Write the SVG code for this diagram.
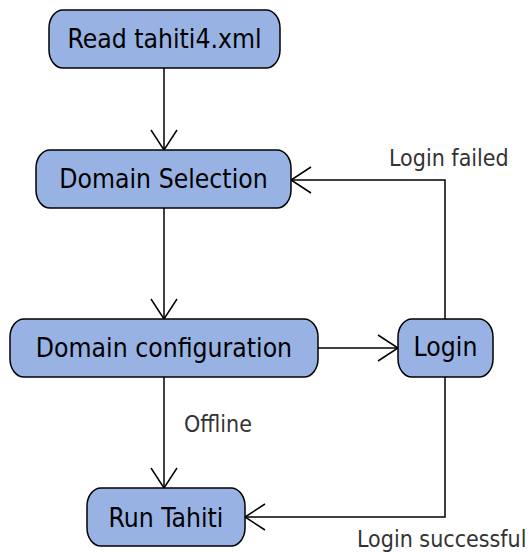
<svg xmlns="http://www.w3.org/2000/svg" width="530" height="552" viewBox="0 0 530 552">
<defs>
<style>
.node rect{fill:#98b3e3;stroke:#000;stroke-width:1.5}
.node text{font-family:"DejaVu Sans Condensed","DejaVu Sans",sans-serif;font-stretch:condensed;font-size:26.3px;fill:#000;text-anchor:middle}
.edge{fill:none;stroke:#000;stroke-width:1.5}
.lbl{font-family:"DejaVu Sans Condensed","DejaVu Sans",sans-serif;font-stretch:condensed;font-size:23px;fill:#333}
</style>
<marker id="arr" viewBox="0 0 22 28" refX="21" refY="14" markerWidth="22" markerHeight="28" markerUnits="userSpaceOnUse" orient="auto">
<path d="M1,1 L21,14 L1,27" fill="none" stroke="#000" stroke-width="1.5"/>
</marker>
</defs>
<rect width="530" height="552" fill="#fff"/>
<g id="connectors">
<path class="edge" d="M164,68 V150" marker-end="url(#arr)"/>
<path class="edge" d="M164,208 V319" marker-end="url(#arr)"/>
<path class="edge" d="M318,348 H398" marker-end="url(#arr)"/>
<path class="edge" d="M164,377 V488" marker-end="url(#arr)"/>
<path class="edge" d="M445,319 V180 H291" marker-end="url(#arr)"/>
<path class="edge" d="M445,377 V517 H245" marker-end="url(#arr)"/>
<text class="lbl" x="389" y="166">Login failed</text>
<text class="lbl" x="184" y="432">Offline</text>
<text class="lbl" x="357" y="547">Login successful</text>
</g>
<g id="n1" class="node"><rect x="49" y="10" width="231" height="58" rx="14" ry="18"/><text x="164.5" y="48">Read tahiti4.xml</text></g>
<g id="n2" class="node"><rect x="36" y="150" width="255" height="58" rx="14" ry="18"/><text x="163.5" y="188">Domain Selection</text></g>
<g id="n3" class="node"><rect x="10" y="319" width="308" height="58" rx="14" ry="18"/><text x="164" y="357">Domain configuration</text></g>
<g id="n4" class="node"><rect x="398" y="319" width="95" height="58" rx="14" ry="18"/><text x="445.5" y="356">Login</text></g>
<g id="n5" class="node"><rect x="87" y="488" width="158" height="58" rx="14" ry="18"/><text x="166" y="527">Run Tahiti</text></g>
</svg>
